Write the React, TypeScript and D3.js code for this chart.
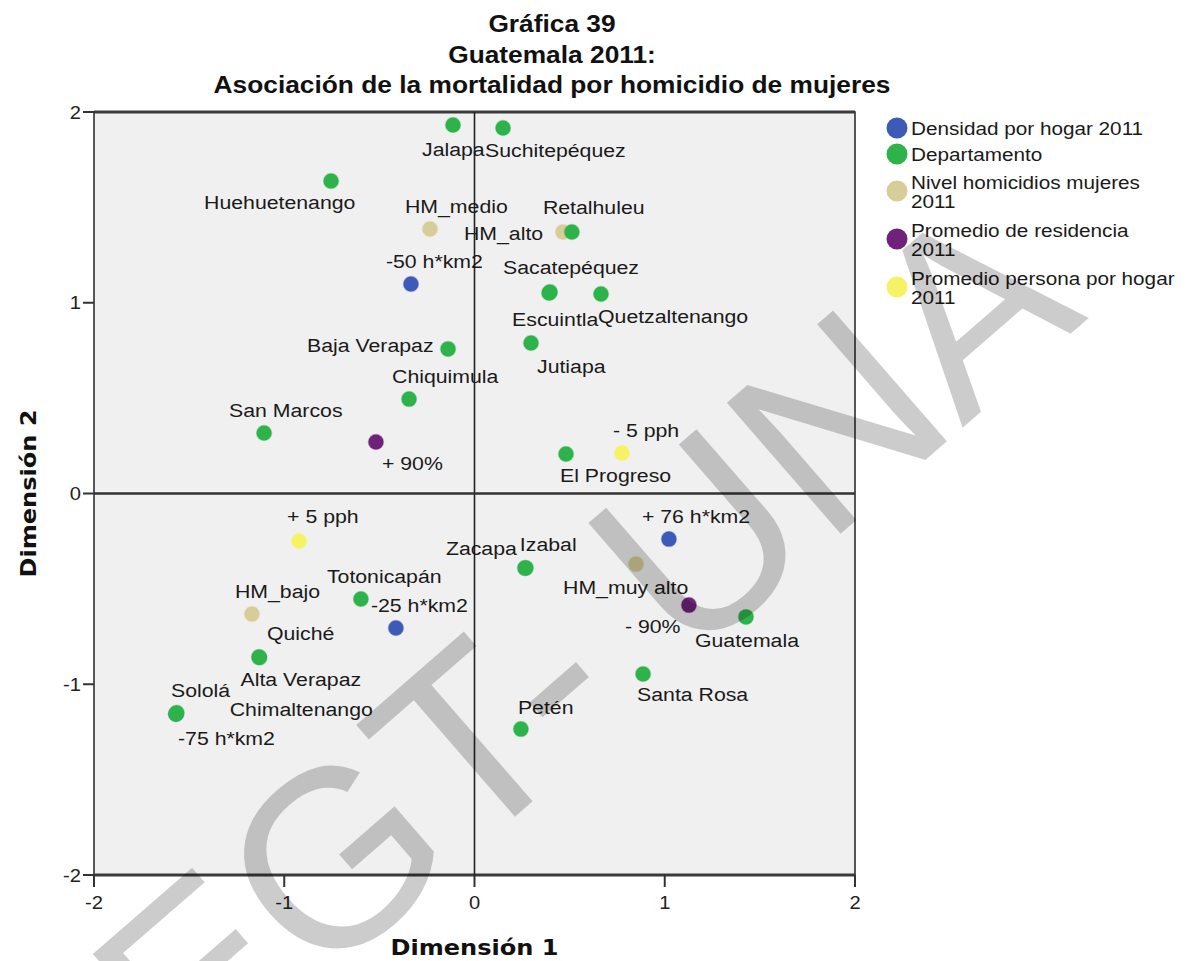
import React from "react";
import * as d3 from "d3";

// ---------- data ----------
const titleLines = ["Gráfica 39", "Guatemala 2011:", "Asociación de la mortalidad por homicidio de mujeres"];
const xTitle = "Dimensión 1";
const yTitle = "Dimensión 2";
const tickValues = [-2, -1, 0, 1, 2];

const densidadLabels = ["-50 h*km2", "+ 76 h*km2", "-25 h*km2", "-75 h*km2"];
const densidadX = [-0.334, 1.022, -0.413, -1.569];
const densidadY = [1.098, -0.239, -0.705, -1.156];

const deptLabels = [
  "Jalapa", "Suchitepéquez", "Huehuetenango", "Retalhuleu", "Sacatepéquez", "Escuintla",
  "Quetzaltenango", "Baja Verapaz", "Jutiapa", "Chiquimula", "San Marcos", "El Progreso",
  "Totonicapán", "Zacapa", "Izabal", "Quiché", "Alta Verapaz", "Sololá", "Chimaltenango",
  "Guatemala", "Santa Rosa", "Petén",
];
const deptX = [-0.113, 0.15, -0.754, 0.512, 0.397, 0.392, 0.665, -0.139, 0.297, -0.344, -1.106, 0.481,
  -0.597, 0.265, 0.27, -1.133, -1.13, -1.569, -1.565, 1.427, 0.886, 0.244];
const deptY = [1.932, 1.916, 1.638, 1.371, 1.056, 1.051, 1.046, 0.758, 0.789, 0.495, 0.317, 0.207,
  -0.553, -0.391, -0.39, -0.857, -0.86, -1.156, -1.15, -0.647, -0.946, -1.235];

const nivelLabels = ["HM_medio", "HM_alto", "HM_bajo", "HM_muy alto"];
const nivelX = [-0.234, 0.465, -1.17, 0.849];
const nivelY = [1.387, 1.371, -0.632, -0.37];

const residenciaLabels = ["+ 90%", "- 90%"];
const residenciaX = [-0.518, 1.127];
const residenciaY = [0.27, -0.585];

const personaLabels = ["+ 5 pph", "- 5 pph"];
const personaX = [-0.922, 0.775];
const personaY = [-0.249, 0.212];

const legendNames = [
  ["Densidad por hogar 2011"],
  ["Departamento"],
  ["Nivel homicidios mujeres", "2011"],
  ["Promedio de residencia", "2011"],
  ["Promedio persona por hogar", "2011"],
];

const watermark = "EGT- UNA";

// ---------- style / layout ----------
const W = 1189, H = 961;
const SX = 1.12;
const FONT = "'Liberation Sans', Arial, sans-serif";
const colors = ["#3d5ab8", "#2db34a", "#d6cd98", "#6e2279", "#f5f364"];
const R = 7.5;

// label offsets (px) relative to each point: [dx to text start, dy to text centre]
const labelOffset: Record<string, [number, number]> = {
  "-50 h*km2": [-25, -23], "+ 76 h*km2": [-27, -23], "-25 h*km2": [-25, -23], "-75 h*km2": [2, 24],
  Jalapa: [-31, 24], "Suchitepéquez": [-18, 22], Huehuetenango: [-127, 21], Retalhuleu: [-29, -25],
  "Sacatepéquez": [-47, -25], Escuintla: [-37, 26], Quetzaltenango: [-3, 22], "Baja Verapaz": [-141, -4],
  Jutiapa: [6, 23], Chiquimula: [-17, -23], "San Marcos": [-35, -23], "El Progreso": [-6, 21],
  "Totonicapán": [-34, -23], Zacapa: [-79, -20], Izabal: [-6, -24], "Quiché": [8, -24],
  "Alta Verapaz": [-19, 22], "Sololá": [-5, -24], Chimaltenango: [53, -4], Guatemala: [-51, 23],
  "Santa Rosa": [-6, 20], "Petén": [-3, -22],
  HM_medio: [-25, -23], HM_alto: [-99, 1], HM_bajo: [-17, -23], "HM_muy alto": [-73, 23],
  "+ 90%": [6, 21], "- 90%": [-64, 21], "+ 5 pph": [-12, -25], "- 5 pph": [-9, -23],
};

const T = ({ x, y, size, anchor = "start", weight = "normal", family = FONT, fill = "#1a1a1a", children, rotate = 0 }: any) => (
  <text
    transform={`translate(${x},${y}) rotate(${rotate}) scale(${SX},1)`}
    fontSize={size}
    fontFamily={family}
    fontWeight={weight}
    textAnchor={anchor}
    fill={fill}
  >
    {children}
  </text>
);

export default function App() {
  const x = d3.scaleLinear().domain([-2, 2]).range([94, 855]);
  const y = d3.scaleLinear().domain([-2, 2]).range([875, 112]);

  const series = [
    { labels: densidadLabels, xs: densidadX, ys: densidadY, color: colors[0], order: 1 },
    { labels: nivelLabels, xs: nivelX, ys: nivelY, color: colors[2], order: 0 },
    { labels: residenciaLabels, xs: residenciaX, ys: residenciaY, color: colors[3], order: 2 },
    { labels: personaLabels, xs: personaX, ys: personaY, color: colors[4], order: 3 },
    { labels: deptLabels, xs: deptX, ys: deptY, color: colors[1], order: 4 },
  ];

  const legendItems: { names: string[]; color: string; cy: number }[] = [];
  let cy = 128;
  legendNames.forEach((names, i) => {
    if (i > 0) {
      const prev = legendNames[i - 1].length;
      cy += (prev === 1 ? 13 : 24) + (names.length === 1 ? 13 : 24);
    }
    legendItems.push({ names, color: colors[i], cy });
  });

  const [x0, x1] = x.range();
  const [y0, y1] = [y(2), y(-2)];

  return (
    <svg width={W} height={H} style={{ position: "absolute", left: 0, top: 0, background: "#fff" }}>
      <rect width={W} height={H} fill="#fff" />
      {/* title */}
      {titleLines.map((t, i) => (
        <T key={t} x={552} y={32 + i * 30.5} size={23.5} weight="bold" anchor="middle" fill="#111">{t}</T>
      ))}
      {/* plot area */}
      <rect x={x0} y={y0} width={x1 - x0} height={y1 - y0} fill="#f0f0f0" stroke="#222" strokeWidth={1.5} />
      <line x1={x0} x2={x1} y1={y0} y2={y0} stroke="#3a3a3a" strokeWidth={3} />
      <line x1={x0} x2={x1} y1={y1} y2={y1} stroke="#3a3a3a" strokeWidth={3} />
      <line x1={x(0)} x2={x(0)} y1={y0} y2={y1} stroke="#222" strokeWidth={1.6} />
      <line x1={x0} x2={x1} y1={y(0)} y2={y(0)} stroke="#333" strokeWidth={2.6} />
      {/* y axis */}
      {tickValues.map((v) => (
        <g key={"y" + v}>
          <line x1={x0 - 11} x2={x0} y1={y(v)} y2={y(v)} stroke="#333" strokeWidth={2} />
          <T x={x0 - 13} y={y(v) + 6.5} size={18} anchor="end" fill="#222">{String(v)}</T>
        </g>
      ))}
      {/* x axis */}
      {tickValues.map((v) => (
        <g key={"x" + v}>
          <line x1={x(v)} x2={x(v)} y1={y1} y2={y1 + 12} stroke="#333" strokeWidth={2} />
          <T x={x(v)} y={y1 + 34} size={18} anchor="middle" fill="#222">{String(v)}</T>
        </g>
      ))}
      <T x={(x0 + x1) / 2} y={955} size={21.5} weight="bold" anchor="middle" family="'DejaVu Sans', Verdana, sans-serif" fill="#111">{xTitle}</T>
      <T x={36} y={(y0 + y1) / 2} size={21.5} weight="bold" anchor="middle" rotate={-90} family="'DejaVu Sans', Verdana, sans-serif" fill="#111">{yTitle}</T>
      {/* points */}
      {[...series].sort((a, b) => a.order - b.order).map((s, si) =>
        s.labels.map((lab, i) => (
          <circle key={si + lab} cx={x(s.xs[i])} cy={y(s.ys[i])} r={R} fill={s.color} stroke={s.color} strokeOpacity={0.35} strokeWidth={1.5} />
        ))
      )}
      {/* labels */}
      {series.map((s) =>
        s.labels.map((lab, i) => {
          const [dx, dy] = labelOffset[lab] || [0, -20];
          return (
            <T key={"l" + lab} x={x(s.xs[i]) + dx} y={y(s.ys[i]) + dy + 6.8} size={19} fill="#1a1a1a">{lab}</T>
          );
        })
      )}
      {/* legend */}
      {legendItems.map((it) => (
        <g key={it.names[0]}>
          <circle cx={897} cy={it.cy} r={10.5} fill={it.color} />
          {it.names.map((n, j) => (
            <T key={n + j} x={911} y={it.cy + 6.5 + (it.names.length === 1 ? 0 : j === 0 ? -9 : 10)} size={18.5} fill="#1a1a1a">{n}</T>
          ))}
        </g>
      ))}
      {/* watermark */}
      <text
        transform="translate(640,708) rotate(-41)"
        fontSize={252}
        fontFamily={FONT}
        textAnchor="middle"
        fill="#000"
        fillOpacity={0.2}
      >
        {watermark}
      </text>
    </svg>
  );
}
